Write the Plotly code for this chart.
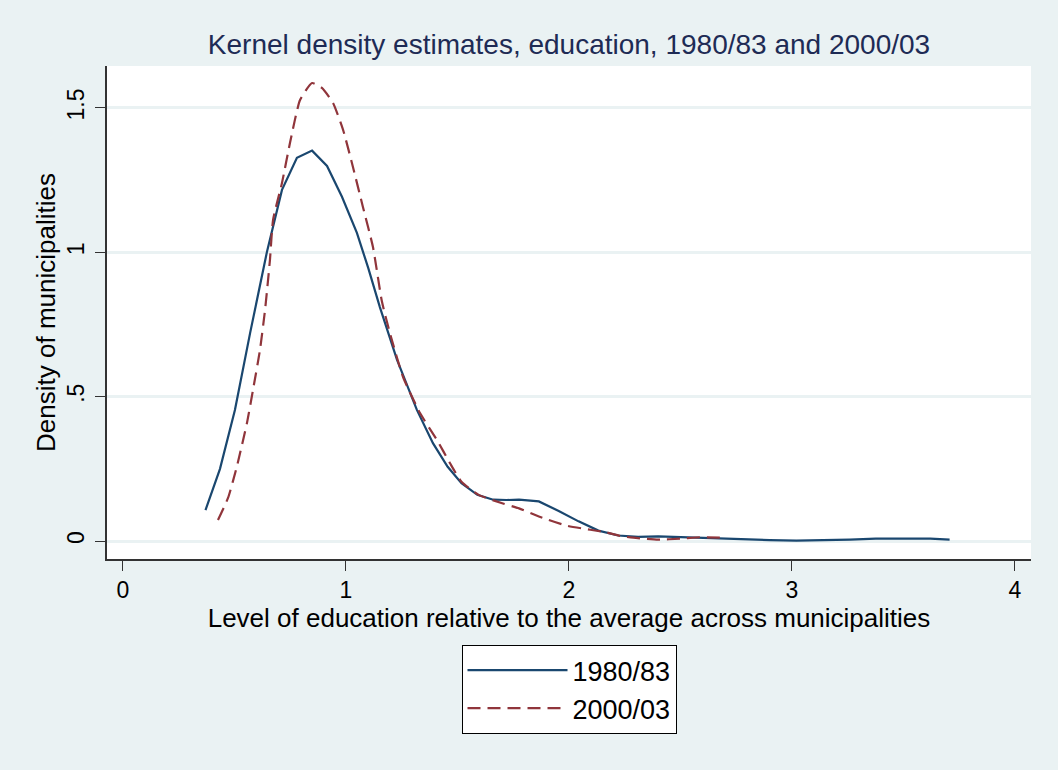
import plotly.graph_objects as go

# ---- data ----
x_1980 = [0.37, 0.435, 0.502, 0.57, 0.646, 0.713, 0.78, 0.848, 0.915, 0.982,
          1.049, 1.10, 1.152, 1.229, 1.318, 1.39, 1.456, 1.518, 1.589, 1.66,
          1.72, 1.776, 1.865, 1.954, 2.043, 2.132, 2.221, 2.31, 2.40, 2.53,
          2.666, 2.78, 2.9, 3.02, 3.14, 3.26, 3.376, 3.5, 3.62, 3.707]
y_1980 = [0.107, 0.250, 0.454, 0.720, 1.003, 1.216, 1.327, 1.352, 1.299, 1.192,
          1.067, 0.945, 0.810, 0.627, 0.454, 0.339, 0.257, 0.200, 0.160, 0.143,
          0.142, 0.143, 0.137, 0.104, 0.068, 0.036, 0.019, 0.014, 0.016, 0.012,
          0.010, 0.006, 0.003, 0.001, 0.002, 0.005, 0.008, 0.009, 0.008, 0.005]

x_2000 = [0.426, 0.471, 0.51, 0.556, 0.583, 0.614, 0.637, 0.659, 0.673, 0.713,
          0.749, 0.794, 0.848, 0.892, 0.942, 0.987, 1.031, 1.076, 1.121, 1.161,
          1.197, 1.256, 1.332, 1.408, 1.466, 1.518, 1.597, 1.704, 1.776, 1.865,
          1.99, 2.096, 2.166, 2.229, 2.309, 2.40, 2.498, 2.587, 2.68]
y_2000 = [0.073, 0.149, 0.256, 0.409, 0.523, 0.66, 0.80, 0.973, 1.112, 1.24,
          1.379, 1.527, 1.586, 1.569, 1.517, 1.424, 1.296, 1.157, 1.018, 0.83,
          0.72, 0.568, 0.443, 0.35, 0.27, 0.205, 0.159, 0.130, 0.113, 0.085,
          0.053, 0.039, 0.030, 0.018, 0.010, 0.005, 0.008, 0.013, 0.012]

series_names = ["1980/83", "2000/03"]
x_ticks = [0, 1, 2, 3, 4]
x_tick_labels = ["0", "1", "2", "3", "4"]
y_ticks = [0, 0.5, 1, 1.5]
y_tick_labels = ["0", ".5", "1", "1.5"]

title_text = "Kernel density estimates, education, 1980/83 and 2000/03"
x_title = "Level of education relative to the average across municipalities"
y_title = "Density of municipalities"

# ---- styles ----
FONT = "Liberation Sans, Arial, sans-serif"
BG = "#EAF2F3"
C1 = "#1A476F"
C2 = "#90353B"

fig = go.Figure()
fig.add_trace(go.Scatter(x=x_1980, y=y_1980, mode="lines", name=series_names[0],
                         legendgroup="a",
                         line=dict(color=C1, width=2.2)))
fig.add_trace(go.Scatter(x=x_2000, y=y_2000, mode="lines", name=series_names[1],
                         legendgroup="b",
                         line=dict(color=C2, width=2.2, dash="13px,7px",
                                   shape="spline", smoothing=0.5)))

fig.update_layout(
    width=1058, height=770,
    paper_bgcolor=BG, plot_bgcolor="white",
    margin=dict(l=107, r=27, t=66, b=211, autoexpand=False),
    font=dict(family=FONT, color="black", size=22),
    title=dict(text=title_text, x=(107 + 1031) / 2 / 1058, xanchor="center",
               y=1 - 44 / 770, yanchor="middle", yref="container",
               font=dict(family=FONT, size=28, color="#1E2B55")),
    showlegend=True,
    legend=dict(x=0.5, xanchor="center", y=(559 - 645) / 493, yanchor="top",
                bgcolor="white", bordercolor="black", borderwidth=1,
                font=dict(family=FONT, size=27, color="black"),
                itemwidth=100, tracegroupgap=0, traceorder="grouped"),
)

fig.update_xaxes(
    range=[-0.0717, 4.072], tickmode="array", tickvals=x_ticks, ticktext=x_tick_labels,
    showline=True, linecolor="#333333", linewidth=1.5,
    ticks="outside", ticklen=10, tickcolor="#333333", tickwidth=1.2,
    showgrid=False, zeroline=False,
    tickfont=dict(family=FONT, size=23),
    title=dict(text=x_title, font=dict(family=FONT, size=26), standoff=2),
)
fig.update_yaxes(
    range=[-0.0623, 1.645], tickmode="array", tickvals=y_ticks, ticktext=y_tick_labels,
    showline=True, linecolor="#333333", linewidth=1.5,
    ticks="outside", ticklen=10, tickcolor="#333333", tickwidth=1.2,
    showgrid=True, gridcolor=BG, gridwidth=2.5, zeroline=False,
    tickangle=-90, tickfont=dict(family=FONT, size=23), ticklabelstandoff=2,
    title=dict(text=y_title, font=dict(family=FONT, size=26), standoff=0),
)

fig.write_html("out.html", config={"displayModeBar": False},
               post_script="document.body.style.margin='0';document.body.style.padding='0';")
